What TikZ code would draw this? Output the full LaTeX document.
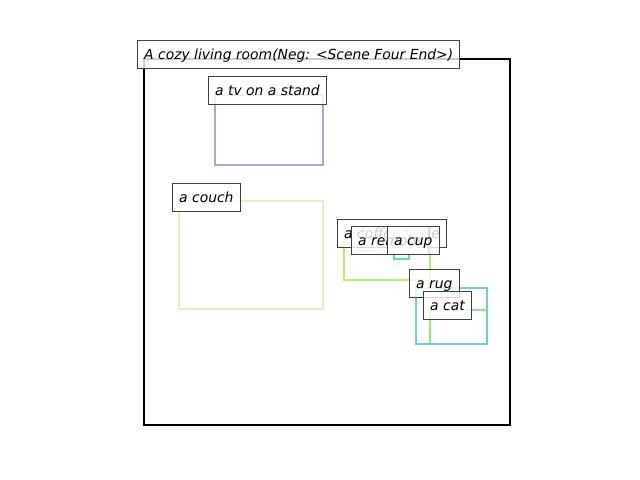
\documentclass[tikz,border=0pt]{standalone}
\usepackage{fontspec}
\setmainfont{DejaVu Sans}
\definecolor{tvCol}{HTML}{A8A8D8}
\definecolor{couchCol}{HTML}{ECE8CC}
\definecolor{tableCol}{HTML}{B8F070}
\definecolor{remoteCol}{HTML}{B0F090}
\definecolor{cupCol}{HTML}{60E090}
\definecolor{rugCol}{HTML}{70D0D0}
\definecolor{catCol}{HTML}{80F080}
\tikzset{
	sceneBox/.style={draw=black, line width=1.6pt},
	objBox/.style={draw=#1, line width=1.8pt},
	lbl/.style={rectangle, draw=black!75, fill=white, fill opacity=0.8, text opacity=1, line width=0.7pt,
		anchor=base west, xshift=-5pt, inner xsep=4.8pt, inner ysep=5pt, text height=8.6pt, text depth=1.6pt,
		font=\fontsize{10}{12}\selectfont\itshape}
}
\begin{document}
\begin{tikzpicture}[x=0.72pt, y=-0.72pt]
		\useasboundingbox (0,0) rectangle (640,480);

		% draw scene box
		\draw[sceneBox] (144,59) rectangle (510,425);

		% draw object boxes
		\draw[objBox=tvCol] (215,95) rectangle (323,165);
		\draw[objBox=couchCol] (179,201) rectangle (323,309);
		\draw[objBox=tableCol] (344,238) rectangle (430,280);
		\draw[objBox=remoteCol] (358,245) rectangle (374,251);
		\draw[objBox=cupCol] (394,245) rectangle (409,259);
		\draw[objBox=catCol] (430,310) rectangle (487,344);
		\draw[objBox=rugCol] (416,288) rectangle (487,344);

		% draw labels
		\node[lbl](sceneLbl) at (144,59){A cozy living room(Neg: <Scene Four End>)};
		\node[lbl](tvLbl) at (215,95){a tv on a stand};
		\node[lbl](couchLbl) at (179,202){a couch};
		\node[lbl](tableLbl) at (344,238){a coffee table};
		\node[lbl](remoteLbl) at (358,245){a remote};
		\node[lbl](cupLbl) at (394,245){a cup};
		\node[lbl](rugLbl) at (416,288){a rug};
		\node[lbl](catLbl) at (430,310){a cat};
	\end{tikzpicture}
\end{document}
